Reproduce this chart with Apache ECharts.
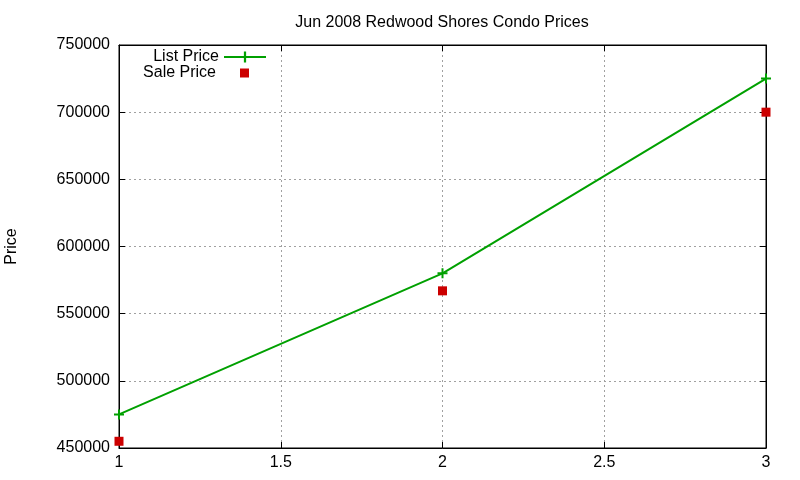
<!DOCTYPE html>
<html>
<head>
<meta charset="utf-8">
<script src="https://cdn.jsdelivr.net/npm/echarts@6/dist/echarts.min.js"></script>
<style>
  html, body { margin: 0; padding: 0; background: #fff; }
  #main { width: 800px; height: 480px; }
</style>
</head>
<body>
<div id="main"></div>
<script>
// data
var months = [1, 2, 3];
var listPrice = [475000, 580000, 725000];
var salePrice = [455000, 567000, 700000];

var font = 'Liberation Sans, Arial, sans-serif';
var plusPath = 'path://M4,0h2v4h4v2h-4v4h-2v-4h-4v-2h4z';

function pairs(xs, ys) {
  var out = [];
  for (var i = 0; i < xs.length; i++) out.push([xs[i], ys[i]]);
  return out;
}

var chart = echarts.init(document.getElementById('main'));

var gridLine = { show: true, lineStyle: { color: '#a0a0a0', type: [2, 3], width: 1 } };
var blackLine = { show: true, lineStyle: { color: '#000', width: 1 } };
var tick = { show: true, inside: true, length: 6, lineStyle: { color: '#000' } };

var option = {
  backgroundColor: '#fff',
  animation: false,
  title: {
    text: 'Jun 2008 Redwood Shores Condo Prices',
    left: 437,
    textAlign: 'center',
    top: 10,
    textStyle: { fontFamily: font, fontSize: 16, fontWeight: 'normal', color: '#000' }
  },
  legend: [{
    data: ['List Price'],
    align: 'right',
    right: 528,
    top: 44,
    itemWidth: 42,
    itemHeight: 14,
    textStyle: { fontFamily: font, fontSize: 16, color: '#000' }
  }, {
    data: ['Sale Price'],
    align: 'right',
    right: 546,
    top: 60,
    itemWidth: 9,
    itemHeight: 9,
    textStyle: { fontFamily: font, fontSize: 16, color: '#000', padding: [0, 19, 0, 0] }
  }],
  grid: {
    left: 119, right: 34, top: 45, bottom: 32,
    outerBoundsMode: 'none',
    show: true, borderColor: '#000', borderWidth: 1
  },
  xAxis: [{
    type: 'value',
    min: 1, max: 3, interval: 0.5,
    axisLine: blackLine,
    axisTick: tick,
    axisLabel: { color: '#000', fontFamily: font, fontSize: 16, margin: 7, formatter: function (v) { return String(v); } },
    splitLine: gridLine
  }, {
    type: 'value', position: 'top',
    min: 1, max: 3, interval: 0.5,
    axisLine: blackLine,
    axisTick: tick,
    axisLabel: { show: false },
    splitLine: { show: false }
  }],
  yAxis: [{
    type: 'value',
    min: 450000, max: 750000, interval: 50000,
    name: 'Price',
    nameLocation: 'middle',
    nameGap: 99,
    nameRotate: 90,
    nameTextStyle: { fontFamily: font, fontSize: 16, color: '#000' },
    axisLine: blackLine,
    axisTick: tick,
    axisLabel: { color: '#000', fontFamily: font, fontSize: 16, margin: 9, formatter: function (v) { return String(v); } },
    splitLine: gridLine
  }, {
    type: 'value', position: 'right',
    min: 450000, max: 750000, interval: 50000,
    axisLine: blackLine,
    axisTick: tick,
    axisLabel: { show: false },
    splitLine: { show: false }
  }],
  series: [{
    name: 'List Price',
    type: 'line',
    data: pairs(months, listPrice),
    symbol: plusPath,
    symbolSize: 10,
    showAllSymbol: true,
    lineStyle: { color: '#00a000', width: 2 },
    itemStyle: { color: '#00a000' },
    z: 3
  }, {
    name: 'Sale Price',
    type: 'scatter',
    data: pairs(months, salePrice),
    symbol: 'rect',
    symbolSize: 9,
    itemStyle: { color: '#cc0000', opacity: 1 },
    z: 4
  }]
};

chart.setOption(option);
</script>
</body>
</html>
